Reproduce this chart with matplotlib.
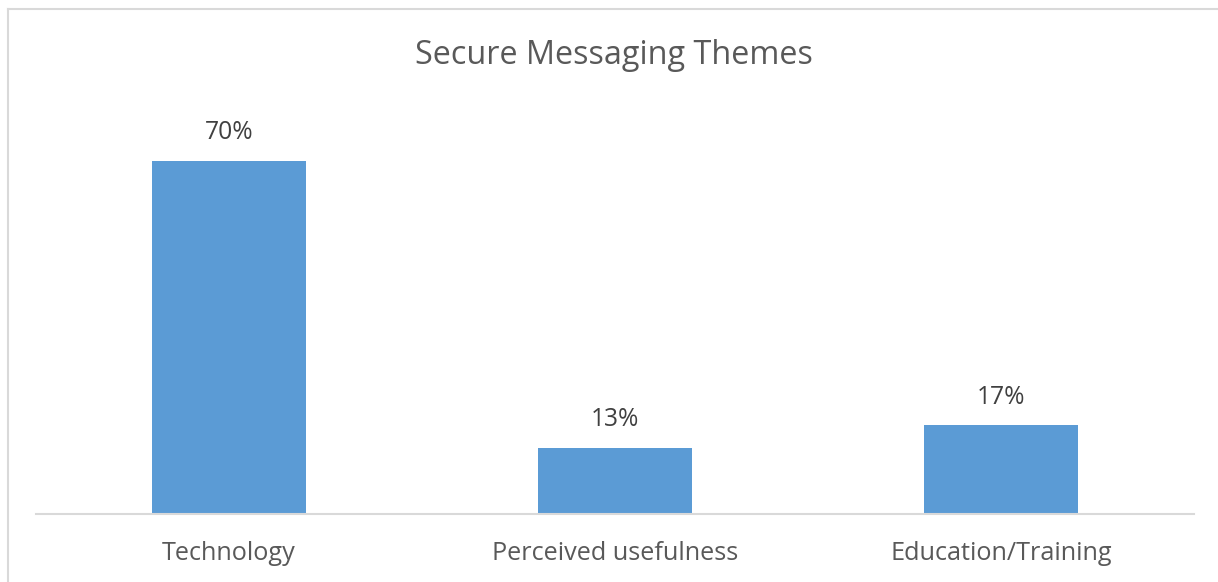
import matplotlib
matplotlib.use("Agg")
import matplotlib.pyplot as plt
from matplotlib.lines import Line2D

categories = ["Technology", "Perceived usefulness", "Education/Training"]
values = [69.6, 13.0, 17.4]
labels = ["70%", "13%", "17%"]

plt.rcParams['font.family'] = ['Open Sans', 'DejaVu Sans']
W, H = 1218, 582
fig = plt.figure(figsize=(W / 100, H / 100), dpi=100)
fig.patch.set_facecolor("white")

# outer chart border (left and top visible)
bx, by = 7.5 / W, (H - 9) / H
fig.add_artist(Line2D([bx, bx], [0, by], transform=fig.transFigure,
                      color="#D9D9D9", linewidth=1.5))
fig.add_artist(Line2D([bx, 1], [by, by], transform=fig.transFigure,
                      color="#D9D9D9", linewidth=1.5))

ax = fig.add_axes([36 / W, (H - 513.5) / H, 1158 / W, 405.7 / H])
x = range(len(categories))
ax.bar(x, values, width=0.4, color="#5B9BD5", zorder=2)
ax.set_xlim(-0.5, 2.5)
ax.set_ylim(0, 80)
for s in ["top", "right", "left"]:
    ax.spines[s].set_visible(False)
ax.spines["bottom"].set_color("#D9D9D9")
ax.spines["bottom"].set_linewidth(1.5)
ax.set_yticks([])
ax.set_xticks(list(x))
ax.set_xticklabels(categories, fontsize=18.2, color="#595959")
ax.tick_params(axis="x", length=0, pad=20)
for xi, v, lab in zip(x, values, labels):
    ax.annotate(lab, (xi, v), xytext=(0, 11), textcoords="offset points",
                ha="center", va="bottom", fontsize=17.7, color="#404040")
fig.text(614 / W, (H - 64) / H, "Secure Messaging Themes", ha="center", va="baseline",
         fontsize=23.3, color="#595959")
fig.savefig("out.png", dpi=100, facecolor="white")
